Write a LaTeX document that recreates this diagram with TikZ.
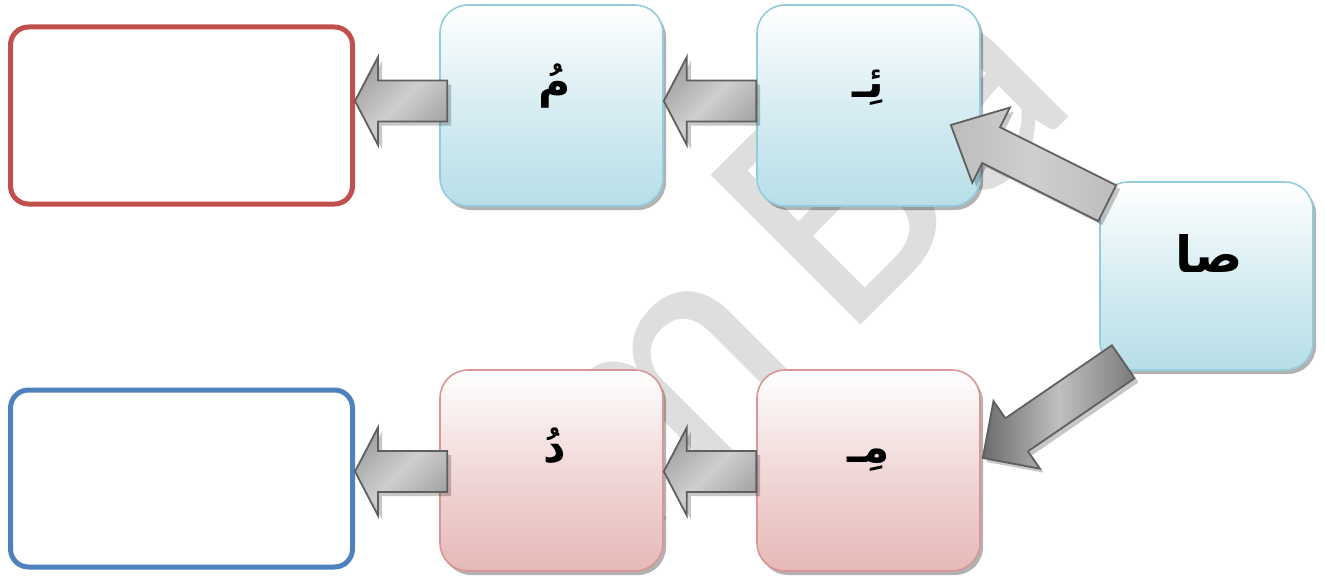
\documentclass[tikz,border=0pt]{standalone}
\usepackage{fontspec}
\newfontfamily\arabicfont[Script=Arabic]{DejaVu Sans}
\newfontfamily\arabicbold[Script=Arabic]{DejaVu Sans Bold}
\newfontfamily\wmfont[WordSpace=0.53]{Carlito}
\TeXXeTstate=1
\usetikzlibrary{calc,shadows}
\definecolor{redB}{HTML}{C0504D}
\definecolor{blueB}{HTML}{4F81BD}
\definecolor{lbBorder}{HTML}{93CDDD}
\definecolor{lbBot}{HTML}{B7DEE8}
\definecolor{pkBorder}{HTML}{D99694}
\definecolor{pkBot}{HTML}{E6B9B8}
\definecolor{arBorder}{HTML}{5F5F5F}
\definecolor{wmGray}{HTML}{DEDEDE}
\newcommand\blkarrow[6]{%
  \path (#1); \pgfgetlastxy{\bxA}{\byA}%
  \path (#2); \pgfgetlastxy{\bxB}{\byB}%
  \pgfmathsetmacro\bang{atan2(\byB-\byA,\bxB-\bxA)}%
  \pgfmathsetmacro\blen{veclen(\bxB-\bxA,\byB-\byA)}%
  \begin{scope}[shift={($(#1)+(4,4)$)}, rotate=\bang, x=1pt, y=1pt]
    \fill[black, opacity=0.22] (0,-#3) -- (\blen-#5,-#3) -- (\blen-#5,-#4) -- (\blen,0) -- (\blen-#5,#4) -- (\blen-#5,#3) -- (0,#3) -- cycle;
  \end{scope}
  \begin{scope}[shift={(#1)}, rotate=\bang, x=1pt, y=1pt]
    \path[blkarr,#6] (0,-#3) -- (\blen-#5,-#3) -- (\blen-#5,-#4) -- (\blen,0) -- (\blen-#5,#4) -- (\blen-#5,#3) -- (0,#3) -- cycle;
  \end{scope}}
\begin{document}
\begin{tikzpicture}[x=1pt,y=-1pt,
  lbox/.style={draw=lbBorder, line width=1.6pt, rounded corners=28pt,
    minimum width=223pt, minimum height=201pt, inner sep=0pt,
    top color=white, bottom color=lbBot, middle color=lbBot!55,
    drop shadow={shadow xshift=3pt, shadow yshift=-4pt, fill=black, opacity=0.3}},
  pbox/.style={lbox, draw=pkBorder, bottom color=pkBot, middle color=pkBot!55},
  ebox/.style={draw=#1, line width=5pt, rounded corners=18pt, fill=white,
    minimum width=342pt, minimum height=177pt, inner sep=0pt},
  artxt/.style={anchor=base, inner sep=0pt, font=\arabicbold\fontsize{44}{48}\selectfont},
  blkarr/.style={draw=arBorder, line width=1.8pt, left color=black!36, right color=black!36, middle color=black!19, shading angle=45},
  wm/.style={text=wmGray, font=\wmfont\fontsize{330}{330}\selectfont, inner sep=0pt, anchor=base west}
]
\useasboundingbox (0,0) rectangle (1325,578);
\begin{scope}
  \clip (0,0) rectangle (1325,578);
  \node[wm, rotate=45] (wmark) at (630,556) {m Ba};
\end{scope}
% boxes
\node[ebox=redB]  (red)   at (181.5,115.5) {};
\node[ebox=blueB] (blueE) at (181.5,478.5) {};
\node[lbox] (mA) at (551.5,105.5) {};
\node[lbox] (hA) at (868.5,105.5) {};
\node[lbox, minimum width=213pt, minimum height=188pt] (sA) at (1206.5,276) {};
\node[pbox] (mi) at (868.5,470.5) {};
\node[pbox] (du) at (551.5,470.5) {};
% texts
\node[artxt] (tmA) at ($(mA.center)+(3,-8.5)$) {\beginR مُ\endR};
\node[artxt] (thA) at ($(hA.center)+(0,-8.5)$) {\beginR ئِـ\endR};
\node[artxt, font=\arabicbold\fontsize{50}{54}\selectfont] (tsA) at ($(sA.center)+(3,-4)$) {\beginR صا\endR};
\node[artxt] (tmi) at ($(mi.center)+(0,-8.5)$) {\beginR مِـ\endR};
\node[artxt] (tdu) at ($(du.center)+(3,-8.5)$) {\beginR دُ\endR};
% arrow end points
\coordinate (a1t) at ($(mA.west)+(8,-4.5)$);
\coordinate (a1h) at (red.east |- a1t);
\coordinate (a2t) at ($(hA.west)+(0,-4.5)$);
\coordinate (a2h) at (mA.east |- a2t);
\coordinate (a3t) at ($(du.west)+(8,1)$);
\coordinate (a3h) at (blueE.east |- a3t);
\coordinate (a4t) at ($(mi.west)+(0,1)$);
\coordinate (a4h) at (du.east |- a4t);
\coordinate (d1t) at ($(sA.north west)+(8,22)$);
\coordinate (d1h) at ($(hA.east)+(-30,19.5)$);
\coordinate (d2t) at ($(sA.south west)+(24,-9)$);
\coordinate (d2h) at ($(mi.east)+(2,-12.5)$);
% arrows
\blkarrow{a1t}{a1h}{20.5}{44}{23}{}
\blkarrow{a2t}{a2h}{20.5}{44}{23}{}
\blkarrow{a3t}{a3h}{20.5}{44}{23}{}
\blkarrow{a4t}{a4h}{20.5}{44}{23}{}
\blkarrow{d1t}{d1h}{20}{42}{45}{left color=black!26, right color=black!26, middle color=black!19}
\blkarrow{d2t}{d2h}{20}{41}{41}{left color=black!58, right color=black!52, middle color=black!25}
\end{tikzpicture}
\end{document}
